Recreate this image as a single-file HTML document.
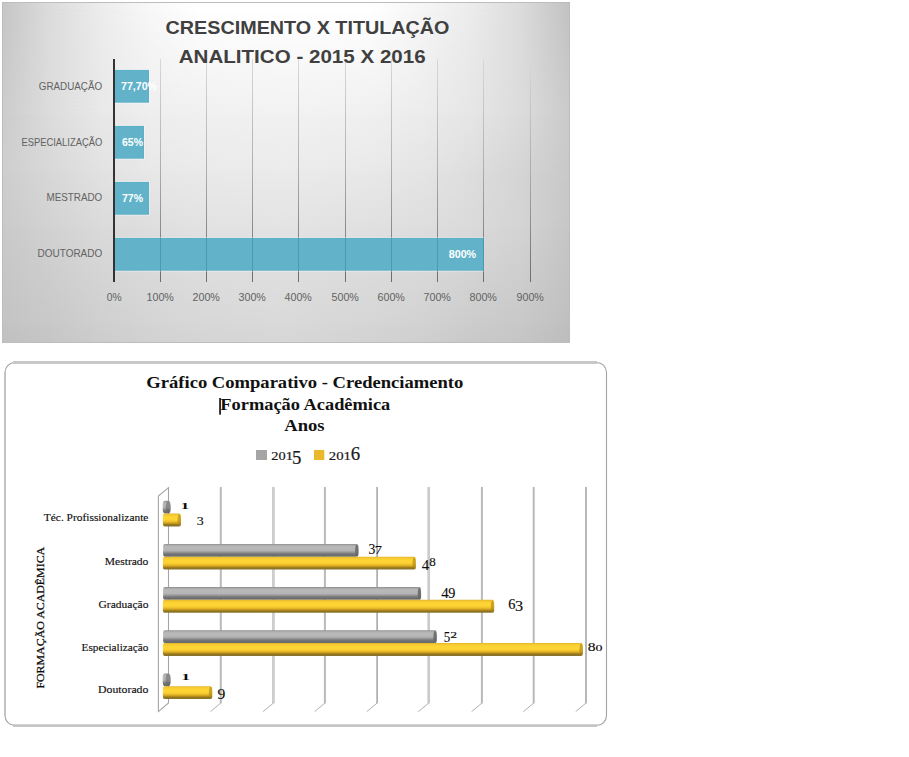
<!DOCTYPE html>
<html><head><meta charset="utf-8"><title>Charts</title>
<style>
html,body{margin:0;padding:0;background:#fff;}
body{width:909px;height:757px;overflow:hidden;font-family:"Liberation Sans",sans-serif;}
svg{display:block;position:absolute;left:0;top:0;}
.s{font-family:"Liberation Sans",sans-serif;}
.r{font-family:"Liberation Serif",serif;}
</style></head><body>
<svg width="909" height="757" viewBox="0 0 909 757">
<defs>
<linearGradient id="gl" x1="0" y1="0" x2="0" y2="1">
<stop offset="0" stop-color="#d8d8d8"/><stop offset="0.5" stop-color="#adadad"/><stop offset="1" stop-color="#6c6c6c"/>
</linearGradient>
<linearGradient id="gy" x1="0" y1="0" x2="0" y2="1">
<stop offset="0" stop-color="#e0b228"/><stop offset="0.1" stop-color="#f5ca30"/><stop offset="0.3" stop-color="#ffd535"/><stop offset="0.5" stop-color="#fdd233"/><stop offset="0.66" stop-color="#e6b627"/><stop offset="0.78" stop-color="#be941c"/><stop offset="0.86" stop-color="#96761a"/><stop offset="0.91" stop-color="#8a7426"/><stop offset="1" stop-color="#8b7630"/>
</linearGradient>
<linearGradient id="gg" x1="0" y1="0" x2="0" y2="1">
<stop offset="0" stop-color="#8a8a8a"/><stop offset="0.09" stop-color="#a9a9a9"/><stop offset="0.22" stop-color="#b9b9b9"/><stop offset="0.5" stop-color="#b5b5b5"/><stop offset="0.62" stop-color="#9e9e9e"/><stop offset="0.76" stop-color="#7a7a7d"/><stop offset="0.86" stop-color="#6c6e72"/><stop offset="1" stop-color="#6a6c70"/>
</linearGradient>
</defs>

<g id="c1">
<defs>
<linearGradient id="h0" gradientUnits="userSpaceOnUse" x1="3" y1="0" x2="570" y2="0">
<stop offset="0.0000" stop-color="#c6c6c6"/>
<stop offset="0.0829" stop-color="#dcdcdc"/>
<stop offset="0.1711" stop-color="#ececec"/>
<stop offset="0.2593" stop-color="#f8f8f8"/>
<stop offset="0.3474" stop-color="#ffffff"/>
<stop offset="0.4991" stop-color="#ffffff"/>
<stop offset="0.6490" stop-color="#ffffff"/>
<stop offset="0.7354" stop-color="#f6f6f6"/>
<stop offset="0.8236" stop-color="#ececec"/>
<stop offset="0.9118" stop-color="#dcdcdc"/>
<stop offset="1.0000" stop-color="#c2c2c2"/>
</linearGradient>
<linearGradient id="h1" gradientUnits="userSpaceOnUse" x1="3" y1="0" x2="570" y2="0">
<stop offset="0.0000" stop-color="#cccccc"/>
<stop offset="0.0829" stop-color="#dcdcdc"/>
<stop offset="0.1711" stop-color="#e8e8e8"/>
<stop offset="0.2593" stop-color="#eeeeee"/>
<stop offset="0.3474" stop-color="#f0f0f0"/>
<stop offset="0.4991" stop-color="#f2f2f2"/>
<stop offset="0.6490" stop-color="#f0f0f0"/>
<stop offset="0.7354" stop-color="#ececec"/>
<stop offset="0.8236" stop-color="#e6e6e6"/>
<stop offset="0.9118" stop-color="#dcdcdc"/>
<stop offset="1.0000" stop-color="#cacaca"/>
</linearGradient>
<linearGradient id="h2" gradientUnits="userSpaceOnUse" x1="3" y1="0" x2="570" y2="0">
<stop offset="0.0000" stop-color="#cecece"/>
<stop offset="0.0829" stop-color="#d8d8d8"/>
<stop offset="0.1711" stop-color="#e2e2e2"/>
<stop offset="0.2593" stop-color="#e8e8e8"/>
<stop offset="0.3474" stop-color="#eaeaea"/>
<stop offset="0.4991" stop-color="#ebebeb"/>
<stop offset="0.6490" stop-color="#e9e9e9"/>
<stop offset="0.7354" stop-color="#e5e5e5"/>
<stop offset="0.8236" stop-color="#dedede"/>
<stop offset="0.9118" stop-color="#d5d5d5"/>
<stop offset="1.0000" stop-color="#c8c8c8"/>
</linearGradient>
<linearGradient id="h3" gradientUnits="userSpaceOnUse" x1="3" y1="0" x2="570" y2="0">
<stop offset="0.0000" stop-color="#cacaca"/>
<stop offset="0.0829" stop-color="#d2d2d2"/>
<stop offset="0.1711" stop-color="#dadada"/>
<stop offset="0.2593" stop-color="#dedede"/>
<stop offset="0.3474" stop-color="#e2e2e2"/>
<stop offset="0.4991" stop-color="#e3e3e3"/>
<stop offset="0.6490" stop-color="#e0e0e0"/>
<stop offset="0.7354" stop-color="#dedede"/>
<stop offset="0.8236" stop-color="#dadada"/>
<stop offset="0.9118" stop-color="#d4d4d4"/>
<stop offset="1.0000" stop-color="#c6c6c6"/>
</linearGradient>
<linearGradient id="h4" gradientUnits="userSpaceOnUse" x1="3" y1="0" x2="570" y2="0">
<stop offset="0.0000" stop-color="#c3c3c3"/>
<stop offset="0.0829" stop-color="#c8c8c8"/>
<stop offset="0.1711" stop-color="#cfcfcf"/>
<stop offset="0.2593" stop-color="#d4d4d4"/>
<stop offset="0.3474" stop-color="#d7d7d7"/>
<stop offset="0.4991" stop-color="#d9d9d9"/>
<stop offset="0.6490" stop-color="#d5d5d5"/>
<stop offset="0.7354" stop-color="#d2d2d2"/>
<stop offset="0.8236" stop-color="#cccccc"/>
<stop offset="0.9118" stop-color="#c8c8c8"/>
<stop offset="1.0000" stop-color="#bfbfbf"/>
</linearGradient>
<linearGradient id="h5" gradientUnits="userSpaceOnUse" x1="3" y1="0" x2="570" y2="0">
<stop offset="0.0000" stop-color="#c0c0c0"/>
<stop offset="0.0829" stop-color="#c5c5c5"/>
<stop offset="0.1711" stop-color="#cccccc"/>
<stop offset="0.2593" stop-color="#d1d1d1"/>
<stop offset="0.3474" stop-color="#d4d4d4"/>
<stop offset="0.4991" stop-color="#d6d6d6"/>
<stop offset="0.6490" stop-color="#d2d2d2"/>
<stop offset="0.7354" stop-color="#cfcfcf"/>
<stop offset="0.8236" stop-color="#c9c9c9"/>
<stop offset="0.9118" stop-color="#c5c5c5"/>
<stop offset="1.0000" stop-color="#bcbcbc"/>
</linearGradient>
<linearGradient id="v1" gradientUnits="userSpaceOnUse" x1="0" y1="8" x2="0" y2="114"><stop offset="0" stop-color="#fff" stop-opacity="0"/><stop offset="1" stop-color="#fff" stop-opacity="1"/></linearGradient>
<mask id="m1" maskUnits="userSpaceOnUse" x="0" y="0" width="600" height="360"><rect x="0" y="0" width="600" height="360" fill="url(#v1)"/></mask>
<linearGradient id="v2" gradientUnits="userSpaceOnUse" x1="0" y1="114" x2="0" y2="170"><stop offset="0" stop-color="#fff" stop-opacity="0"/><stop offset="1" stop-color="#fff" stop-opacity="1"/></linearGradient>
<mask id="m2" maskUnits="userSpaceOnUse" x="0" y="0" width="600" height="360"><rect x="0" y="0" width="600" height="360" fill="url(#v2)"/></mask>
<linearGradient id="v3" gradientUnits="userSpaceOnUse" x1="0" y1="170" x2="0" y2="227"><stop offset="0" stop-color="#fff" stop-opacity="0"/><stop offset="1" stop-color="#fff" stop-opacity="1"/></linearGradient>
<mask id="m3" maskUnits="userSpaceOnUse" x="0" y="0" width="600" height="360"><rect x="0" y="0" width="600" height="360" fill="url(#v3)"/></mask>
<linearGradient id="v4" gradientUnits="userSpaceOnUse" x1="0" y1="227" x2="0" y2="325"><stop offset="0" stop-color="#fff" stop-opacity="0"/><stop offset="1" stop-color="#fff" stop-opacity="1"/></linearGradient>
<mask id="m4" maskUnits="userSpaceOnUse" x="0" y="0" width="600" height="360"><rect x="0" y="0" width="600" height="360" fill="url(#v4)"/></mask>
<linearGradient id="v5" gradientUnits="userSpaceOnUse" x1="0" y1="325" x2="0" y2="343"><stop offset="0" stop-color="#fff" stop-opacity="0"/><stop offset="1" stop-color="#fff" stop-opacity="1"/></linearGradient>
<mask id="m5" maskUnits="userSpaceOnUse" x="0" y="0" width="600" height="360"><rect x="0" y="0" width="600" height="360" fill="url(#v5)"/></mask>
</defs>
<rect x="2" y="2" width="568" height="341" fill="url(#h0)"/>
<rect x="2" y="2" width="568" height="341" fill="url(#h1)" mask="url(#m1)"/>
<rect x="2" y="2" width="568" height="341" fill="url(#h2)" mask="url(#m2)"/>
<rect x="2" y="2" width="568" height="341" fill="url(#h3)" mask="url(#m3)"/>
<rect x="2" y="2" width="568" height="341" fill="url(#h4)" mask="url(#m4)"/>
<rect x="2" y="2" width="568" height="341" fill="url(#h5)" mask="url(#m5)"/>
<rect x="2.5" y="2.5" width="567" height="340" fill="none" stroke="#bdbdbd" stroke-width="1"/>
<rect x="160" y="59" width="1" height="223" fill="url(#gl)"/>
<rect x="206" y="59" width="1" height="223" fill="url(#gl)"/>
<rect x="252" y="59" width="1" height="223" fill="url(#gl)"/>
<rect x="298" y="59" width="1" height="223" fill="url(#gl)"/>
<rect x="345" y="59" width="1" height="223" fill="url(#gl)"/>
<rect x="391" y="59" width="1" height="223" fill="url(#gl)"/>
<rect x="437" y="59" width="1" height="223" fill="url(#gl)"/>
<rect x="483" y="59" width="1" height="223" fill="url(#gl)"/>
<rect x="530" y="59" width="1" height="223" fill="url(#gl)"/>
<rect x="115" y="69.1" width="34.8" height="34.5" fill="#fff" opacity="0.4"/>
<rect x="115" y="69.9" width="34.0" height="32.8" fill="#5cafc7"/>
<rect x="115" y="70.8" width="33.1" height="31" fill="#62b3ca"/>
<rect x="115" y="125.1" width="29.8" height="34.5" fill="#fff" opacity="0.4"/>
<rect x="115" y="125.9" width="29.0" height="32.8" fill="#5cafc7"/>
<rect x="115" y="126.8" width="28.1" height="31" fill="#62b3ca"/>
<rect x="115" y="181.1" width="34.8" height="34.5" fill="#fff" opacity="0.4"/>
<rect x="115" y="181.9" width="34.0" height="32.8" fill="#5cafc7"/>
<rect x="115" y="182.8" width="33.1" height="31" fill="#62b3ca"/>
<rect x="115" y="237.1" width="369.1" height="34.5" fill="#fff" opacity="0.4"/>
<rect x="115" y="237.9" width="368.3" height="32.8" fill="#5cafc7"/>
<rect x="115" y="238.8" width="367.4" height="31" fill="#62b3ca"/>
<rect x="160" y="238" width="1" height="33" fill="#4b9ab3"/>
<rect x="206" y="238" width="1" height="33" fill="#4b9ab3"/>
<rect x="252" y="238" width="1" height="33" fill="#4b9ab3"/>
<rect x="298" y="238" width="1" height="33" fill="#4b9ab3"/>
<rect x="345" y="238" width="1" height="33" fill="#4b9ab3"/>
<rect x="391" y="238" width="1" height="33" fill="#4b9ab3"/>
<rect x="437" y="238" width="1" height="33" fill="#4b9ab3"/>
<rect x="483" y="238" width="1" height="33" fill="#4b9ab3"/>
<rect x="113" y="59" width="2" height="223" fill="#333"/>
<text class="s" x="121" y="90.3" font-size="11" font-weight="bold" fill="#fff" textLength="36" lengthAdjust="spacingAndGlyphs">77,70%</text>
<text class="s" x="122" y="146.3" font-size="11" font-weight="bold" fill="#fff" textLength="21" lengthAdjust="spacingAndGlyphs">65%</text>
<text class="s" x="122" y="202.3" font-size="11" font-weight="bold" fill="#fff" textLength="21" lengthAdjust="spacingAndGlyphs">77%</text>
<text class="s" x="448.7" y="258.3" font-size="11" font-weight="bold" fill="#fff" textLength="27.5" lengthAdjust="spacingAndGlyphs">800%</text>
<text class="s" x="38.8" y="89.6" font-size="10.5" fill="#626262" textLength="63.4" lengthAdjust="spacingAndGlyphs">GRADUAÇÃO</text>
<text class="s" x="21.5" y="145.8" font-size="10.5" fill="#626262" textLength="80.7" lengthAdjust="spacingAndGlyphs">ESPECIALIZAÇÃO</text>
<text class="s" x="46.5" y="201" font-size="10.5" fill="#626262" textLength="55.7" lengthAdjust="spacingAndGlyphs">MESTRADO</text>
<text class="s" x="37.6" y="257" font-size="10.5" fill="#626262" textLength="64.6" lengthAdjust="spacingAndGlyphs">DOUTORADO</text>
<text class="s" x="106.8" y="301" font-size="10.3" fill="#626262" textLength="14.9" lengthAdjust="spacingAndGlyphs">0%</text>
<text class="s" x="146.5" y="301" font-size="10.3" fill="#626262" textLength="27.4" lengthAdjust="spacingAndGlyphs">100%</text>
<text class="s" x="192.5" y="301" font-size="10.3" fill="#626262" textLength="27.4" lengthAdjust="spacingAndGlyphs">200%</text>
<text class="s" x="238.5" y="301" font-size="10.3" fill="#626262" textLength="27.4" lengthAdjust="spacingAndGlyphs">300%</text>
<text class="s" x="284.5" y="301" font-size="10.3" fill="#626262" textLength="27.4" lengthAdjust="spacingAndGlyphs">400%</text>
<text class="s" x="331.5" y="301" font-size="10.3" fill="#626262" textLength="27.4" lengthAdjust="spacingAndGlyphs">500%</text>
<text class="s" x="377.5" y="301" font-size="10.3" fill="#626262" textLength="27.4" lengthAdjust="spacingAndGlyphs">600%</text>
<text class="s" x="423.5" y="301" font-size="10.3" fill="#626262" textLength="27.4" lengthAdjust="spacingAndGlyphs">700%</text>
<text class="s" x="469.5" y="301" font-size="10.3" fill="#626262" textLength="27.4" lengthAdjust="spacingAndGlyphs">800%</text>
<text class="s" x="516.5" y="301" font-size="10.3" fill="#626262" textLength="27.4" lengthAdjust="spacingAndGlyphs">900%</text>
<text class="s" x="165.5" y="34" font-size="18.6" font-weight="bold" fill="#404040" textLength="284" lengthAdjust="spacingAndGlyphs">CRESCIMENTO X TITULAÇÃO</text>
<text class="s" x="178.7" y="63.4" font-size="18.8" font-weight="bold" fill="#404040" textLength="247" lengthAdjust="spacingAndGlyphs">ANALITICO - 2015 X 2016</text>
</g>
<g id="c2">
<rect x="5" y="362.5" width="601.5" height="363" rx="10" ry="10" fill="#fff" stroke="#a2a2a2" stroke-width="1.1"/>
<rect x="13" y="361" width="584" height="3" fill="#c8c8c8"/>
<rect x="13" y="724.3" width="584" height="2.6" fill="#c2c2c2"/>
<rect x="4.2" y="372" width="1.8" height="344" fill="#c2c2c2"/>
<text class="r" x="146.3" y="387.6" font-size="16.6" font-weight="bold" fill="#111" textLength="317" lengthAdjust="spacingAndGlyphs">Gráfico Comparativo - Credenciamento</text>
<text class="r" x="220.3" y="409.5" font-size="16.6" font-weight="bold" fill="#111" textLength="170" lengthAdjust="spacingAndGlyphs">Formação Acadêmica</text>
<rect x="219.2" y="398" width="1.7" height="16.7" fill="#151515"/>
<text class="r" x="284.3" y="430.6" font-size="16.6" font-weight="bold" fill="#111" textLength="40.3" lengthAdjust="spacingAndGlyphs">Anos</text>
<rect x="256" y="450" width="11" height="10" fill="#a5a5a5"/>
<rect x="314" y="450" width="10.3" height="10" fill="#e9b92b"/>
<text class="r" x="271.3" y="459.8" font-size="12.7" fill="#1a1a1a" stroke="#1a1a1a" stroke-width="0.2" textLength="21.6" lengthAdjust="spacingAndGlyphs">201</text>
<text class="r" x="292.1" y="464.3" font-size="18.4" fill="#1a1a1a" stroke="#1a1a1a" stroke-width="0.2" textLength="9.4" lengthAdjust="spacingAndGlyphs">5</text>
<text class="r" x="328.8" y="459.8" font-size="12.7" fill="#1a1a1a" stroke="#1a1a1a" stroke-width="0.2" textLength="22.2" lengthAdjust="spacingAndGlyphs">201</text>
<text class="r" x="350.8" y="459.8" font-size="18.0" fill="#1a1a1a" stroke="#1a1a1a" stroke-width="0.2" textLength="9.4" lengthAdjust="spacingAndGlyphs">6</text>
<path d="M158.4 711.6 L158.4 496 L168.5 487.6 L168.5 703 Z" fill="none" stroke="#a6a6a6" stroke-width="1.1"/>
<path d="M220.8 487 L220.8 703.3" fill="none" stroke="#b9b9b9" stroke-width="2.0"/>
<path d="M221.1 702.8 L210.5 711.6" fill="none" stroke="#b0b0b0" stroke-width="1"/>
<path d="M273.4 487 L273.4 703.3" fill="none" stroke="#cdcdcd" stroke-width="2.8"/>
<path d="M273.7 702.8 L263.1 711.6" fill="none" stroke="#b0b0b0" stroke-width="1"/>
<path d="M324.9 487 L324.9 703.3" fill="none" stroke="#b9b9b9" stroke-width="2.0"/>
<path d="M325.2 702.8 L314.6 711.6" fill="none" stroke="#b0b0b0" stroke-width="1"/>
<path d="M377.1 487 L377.1 703.3" fill="none" stroke="#9b9b9b" stroke-width="1.4"/>
<path d="M377.4 702.8 L366.8 711.6" fill="none" stroke="#b0b0b0" stroke-width="1"/>
<path d="M428.7 487 L428.7 703.3" fill="none" stroke="#cbcbcb" stroke-width="2.7"/>
<path d="M429.0 702.8 L418.4 711.6" fill="none" stroke="#b0b0b0" stroke-width="1"/>
<path d="M481.9 487 L481.9 703.3" fill="none" stroke="#b9b9b9" stroke-width="2.0"/>
<path d="M482.2 702.8 L471.6 711.6" fill="none" stroke="#b0b0b0" stroke-width="1"/>
<path d="M533.7 487 L533.7 703.3" fill="none" stroke="#b9b9b9" stroke-width="2.0"/>
<path d="M534.0 702.8 L523.4 711.6" fill="none" stroke="#b0b0b0" stroke-width="1"/>
<path d="M586.0 487 L586.0 703.3" fill="none" stroke="#a7a7a7" stroke-width="1.6"/>
<path d="M586.3 702.8 L575.7 711.6" fill="none" stroke="#b0b0b0" stroke-width="1"/>
<rect x="162.7" y="500.8" width="7.9" height="12.75" rx="2.6" ry="4.2" fill="url(#gg)"/>
<ellipse cx="168.1" cy="507.175" rx="2.5" ry="5.975" fill="#666666" opacity="0.55"/>
<rect x="162.9" y="513.55" width="18.1" height="12.9" rx="1.7" ry="2.6" fill="url(#gy)"/>
<ellipse cx="179.3" cy="520.0" rx="1.7" ry="5.8500000000000005" fill="#a8841a" opacity="0.6"/>
<rect x="163.1" y="543.95" width="195.4" height="12.75" rx="1.7" ry="2.6" fill="url(#gg)"/>
<ellipse cx="356.8" cy="550.325" rx="1.7" ry="5.775" fill="#666666" opacity="0.85"/>
<rect x="162.9" y="556.7" width="253.0" height="12.9" rx="1.7" ry="2.6" fill="url(#gy)"/>
<ellipse cx="414.2" cy="563.1500000000001" rx="1.7" ry="5.8500000000000005" fill="#a8841a" opacity="0.6"/>
<rect x="163.1" y="587.1" width="258.0" height="12.75" rx="1.7" ry="2.6" fill="url(#gg)"/>
<ellipse cx="419.4" cy="593.475" rx="1.7" ry="5.775" fill="#666666" opacity="0.85"/>
<rect x="162.9" y="599.85" width="331.3" height="12.9" rx="1.7" ry="2.6" fill="url(#gy)"/>
<ellipse cx="492.5" cy="606.3000000000001" rx="1.7" ry="5.8500000000000005" fill="#a8841a" opacity="0.6"/>
<rect x="163.1" y="630.25" width="273.7" height="12.75" rx="1.7" ry="2.6" fill="url(#gg)"/>
<ellipse cx="435.1" cy="636.625" rx="1.7" ry="5.775" fill="#666666" opacity="0.85"/>
<rect x="162.9" y="643.0" width="420.0" height="12.9" rx="1.7" ry="2.6" fill="url(#gy)"/>
<ellipse cx="581.2" cy="649.45" rx="1.7" ry="5.8500000000000005" fill="#a8841a" opacity="0.6"/>
<rect x="162.7" y="673.4" width="7.9" height="12.75" rx="2.6" ry="4.2" fill="url(#gg)"/>
<ellipse cx="168.1" cy="679.775" rx="2.5" ry="5.975" fill="#666666" opacity="0.55"/>
<rect x="162.9" y="686.15" width="49.4" height="12.9" rx="1.7" ry="2.6" fill="url(#gy)"/>
<ellipse cx="210.6" cy="692.6" rx="1.7" ry="5.8500000000000005" fill="#a8841a" opacity="0.6"/>
<text class="r" x="43.8" y="521.4" font-size="10.6" fill="#111" stroke="#111" stroke-width="0.15" textLength="104.6" lengthAdjust="spacingAndGlyphs">Téc. Profissionalizante</text>
<text class="r" x="104.8" y="564.7" font-size="10.6" fill="#111" stroke="#111" stroke-width="0.15" textLength="43.6" lengthAdjust="spacingAndGlyphs">Mestrado</text>
<text class="r" x="98.5" y="607.5" font-size="10.6" fill="#111" stroke="#111" stroke-width="0.15" textLength="49.9" lengthAdjust="spacingAndGlyphs">Graduação</text>
<text class="r" x="81.5" y="650.6" font-size="10.6" fill="#111" stroke="#111" stroke-width="0.15" textLength="66.9" lengthAdjust="spacingAndGlyphs">Especialização</text>
<text class="r" x="98" y="693" font-size="10.6" fill="#111" stroke="#111" stroke-width="0.15" textLength="50.4" lengthAdjust="spacingAndGlyphs">Doutorado</text>
<text class="r" transform="translate(43.9 688.6) rotate(-90)" x="0" y="0" font-size="10.9" fill="#0a0a0a" stroke="#0a0a0a" stroke-width="0.25" textLength="141.8" lengthAdjust="spacingAndGlyphs">FORMAÇÃO ACADÊMICA</text>
<text class="r" x="180.58" y="508.80" font-size="9.02" font-weight="bold" fill="#0a0a0a" stroke="#0a0a0a" stroke-width="0" textLength="8.84" lengthAdjust="spacingAndGlyphs">1</text>
<text class="r" x="181.38" y="680.20" font-size="9.17" font-weight="bold" fill="#0a0a0a" stroke="#0a0a0a" stroke-width="0" textLength="8.84" lengthAdjust="spacingAndGlyphs">1</text>
<text class="r" x="196.81" y="524.70" font-size="13.17" fill="#0a0a0a" stroke="#0a0a0a" stroke-width="0.12" textLength="6.98" lengthAdjust="spacingAndGlyphs">3</text>
<text class="r" x="368.52" y="554.10" font-size="13.61" fill="#0a0a0a" stroke="#0a0a0a" stroke-width="0.12" textLength="6.86" lengthAdjust="spacingAndGlyphs">3</text>
<text class="r" x="374.70" y="554.10" font-size="13.31" fill="#0a0a0a" stroke="#0a0a0a" stroke-width="0.12" textLength="7.21" lengthAdjust="spacingAndGlyphs">7</text>
<text class="r" x="421.68" y="569.70" font-size="14.35" fill="#0a0a0a" stroke="#0a0a0a" stroke-width="0.12" textLength="7.44" lengthAdjust="spacingAndGlyphs">4</text>
<text class="r" x="429.14" y="565.90" font-size="13.17" fill="#0a0a0a" stroke="#0a0a0a" stroke-width="0.12" textLength="6.51" lengthAdjust="spacingAndGlyphs">8</text>
<text class="r" x="441.28" y="598.00" font-size="14.20" fill="#0a0a0a" stroke="#0a0a0a" stroke-width="0.12" textLength="7.44" lengthAdjust="spacingAndGlyphs">4</text>
<text class="r" x="448.30" y="598.00" font-size="14.20" fill="#0a0a0a" stroke="#0a0a0a" stroke-width="0.12" textLength="7.09" lengthAdjust="spacingAndGlyphs">9</text>
<text class="r" x="508.30" y="608.90" font-size="13.91" fill="#0a0a0a" stroke="#0a0a0a" stroke-width="0.12" textLength="7.21" lengthAdjust="spacingAndGlyphs">6</text>
<text class="r" x="515.03" y="611.40" font-size="13.61" fill="#0a0a0a" stroke="#0a0a0a" stroke-width="0.12" textLength="8.14" lengthAdjust="spacingAndGlyphs">3</text>
<text class="r" x="443.84" y="641.50" font-size="14.05" fill="#0a0a0a" stroke="#0a0a0a" stroke-width="0.12" textLength="6.51" lengthAdjust="spacingAndGlyphs">5</text>
<text class="r" x="450.22" y="637.90" font-size="8.28" fill="#0a0a0a" stroke="#0a0a0a" stroke-width="0.12" textLength="6.86" lengthAdjust="spacingAndGlyphs">2</text>
<text class="r" x="587.75" y="651.00" font-size="13.46" fill="#0a0a0a" stroke="#0a0a0a" stroke-width="0.12" textLength="7.79" lengthAdjust="spacingAndGlyphs">8</text>
<text class="r" x="595.51" y="651.00" font-size="9.02" fill="#0a0a0a" stroke="#0a0a0a" stroke-width="0.12" textLength="6.98" lengthAdjust="spacingAndGlyphs">0</text>
<text class="r" x="217.45" y="698.60" font-size="14.20" fill="#0a0a0a" stroke="#0a0a0a" stroke-width="0.12" textLength="7.79" lengthAdjust="spacingAndGlyphs">9</text>
</g>
</svg></body></html>
